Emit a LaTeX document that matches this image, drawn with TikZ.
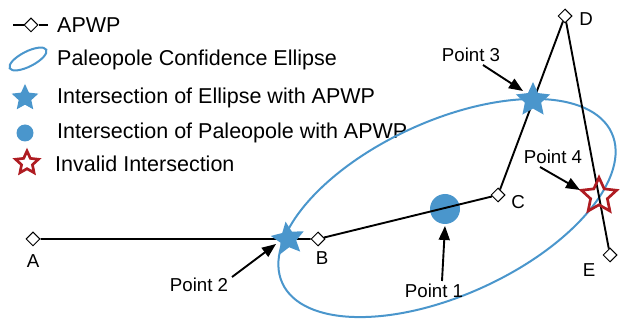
\documentclass[tikz,border=0pt]{standalone}
\usepackage{fontspec}
\setmainfont{Liberation Sans}
\usetikzlibrary{shapes.geometric,arrows.meta}
\definecolor{pblue}{RGB}{74,150,204}
\definecolor{pred}{RGB}{175,28,34}
\begin{document}
\begin{tikzpicture}[x=1pt,y=-1pt,
  apwpt/.style={diamond,draw,fill=white,inner sep=0pt,minimum size=14pt,line width=1pt},
  apwpline/.style={line width=1.9pt},
  bstar/.style={star,star points=5,star point ratio=2.1,fill=pblue,inner sep=0pt},
  rstar/.style={star,star points=5,star point ratio=2.1,draw=pred,line width=2.7pt,inner sep=0pt},
  arr/.style={line width=1.9pt,-{Triangle[length=14pt,width=11pt]}},
  lg/.style={font=\fontsize{21.5}{24}\selectfont,anchor=base west,inner sep=0pt},
  lbl/.style={font=\fontsize{18.7}{22}\selectfont,inner sep=0pt}]
\useasboundingbox (0,0) rectangle (621,320);
% legend
\coordinate (l1) at (13,25);
\coordinate (l2) at (48,25);
\node[apwpt] (ld) at (31,25) {};
\draw[apwpline] (l1) -- (ld) -- (l2);
\node[draw=pblue,line width=2pt,ellipse,minimum width=41pt,minimum height=15pt,inner sep=0pt,rotate=27] (lell) at (28,59) {};
\node[bstar,minimum size=28pt] (lstar) at (25,98) {};
\node[circle,fill=pblue,minimum size=17pt,inner sep=0pt] (lcirc) at (25,133) {};
\node[rstar,minimum size=24pt] (lrstar) at (27,163) {};
\node[lg] (t1) at (57,32.5) {APWP};
\node[lg] (t2) at (57,65.5) {Paleopole Confidence Ellipse};
\node[lg] (t3) at (57,104) {Intersection of Ellipse with APWP};
\node[lg] (t4) at (57,138.5) {Intersection of Paleopole with APWP};
\node[lg] (t5) at (55,172) {Invalid Intersection};
% ellipse
\node[draw=pblue,line width=2pt,ellipse,minimum width=362pt,minimum height=174pt,inner sep=0pt,rotate=24.5] (ell) at (447,208) {};
% paleopole
\node[circle,fill=pblue,minimum size=30pt,inner sep=0pt] (p1) at (445,209) {};
% APWP
\node[apwpt] (A) at (33,239) {};
\node[apwpt] (B) at (318,239) {};
\node[apwpt] (C) at (498,195) {};
\node[apwpt] (D) at (565,16) {};
\node[apwpt] (E) at (610,255) {};
\draw[apwpline] (A) -- (B) -- (C) -- (D) -- (E);
% intersections
\node[bstar,minimum size=35pt,rotate=8] (p2) at (288,239) {};
\node[bstar,minimum size=36pt] (p3) at (533,100) {};
\node[rstar,minimum size=37pt] (p4) at (599,196) {};
% labels
\node[lbl] (lA) at (33,261) {A};
\node[lbl] (lB) at (322,258) {B};
\node[lbl] (lC) at (518,202) {C};
\node[lbl] (lD) at (586,19) {D};
\node[lbl] (lE) at (589,270) {E};
\node[lbl] (n1) at (434,291) {Point 1};
\node[lbl] (n2) at (199,285) {Point 2};
\node[lbl] (n3) at (471,55) {Point 3};
\node[lbl] (n4) at (553,157) {Point 4};
% arrows
\coordinate (a1s) at (442,281);
\coordinate (a1e) at (445,226);
\coordinate (a2s) at (232,277);
\coordinate (a2e) at (276,244);
\coordinate (a3s) at (483,65);
\coordinate (a3e) at (523,91);
\coordinate (a4s) at (540,167);
\coordinate (a4e) at (580,190);
\draw[arr] (a1s) -- (a1e);
\draw[arr] (a2s) -- (a2e);
\draw[arr] (a3s) -- (a3e);
\draw[arr] (a4s) -- (a4e);
\end{tikzpicture}
\end{document}
